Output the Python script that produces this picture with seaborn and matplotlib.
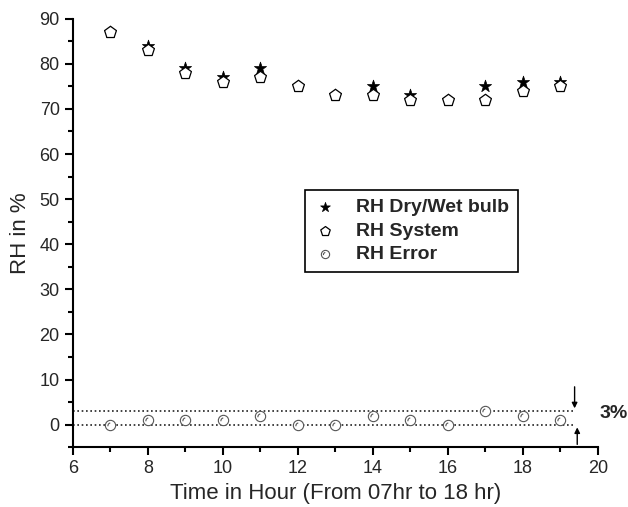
import numpy as np
import matplotlib
matplotlib.use('Agg')
import matplotlib.pyplot as plt
from matplotlib.path import Path
from matplotlib.ticker import MultipleLocator
import seaborn as sns

# data
hours = [7, 8, 9, 10, 11, 12, 13, 14, 15, 16, 17, 18, 19]
rh_drywet = [87, 84, 79, 77, 79, 75, 73, 75, 73, 72, 75, 76, 76]
rh_system = [87, 83, 78, 76, 77, 75, 73, 73, 72, 72, 72, 74, 75]
rh_error = [0, 1, 1, 1, 2, 0, 0, 2, 1, 0, 3, 2, 1]

sns.set_style('ticks')
plt.rcParams['font.family'] = ['Liberation Sans', 'DejaVu Sans']

# circle with a small inner arc, like the origin marker
circ = Path.unit_circle()
arc = Path.arc(100, 190)
arc = Path(arc.vertices * 0.55 + [0.05, -0.05], arc.codes)
err_marker = Path.make_compound_path(circ, arc)

fig = plt.figure(figsize=(6.28, 5.07), dpi=100)
ax = fig.add_axes([0.116, 0.118, 0.836, 0.845])

sns.scatterplot(x=hours, y=rh_drywet, marker='*', s=85, color='black',
                edgecolor='black', linewidth=0.5, label='RH Dry/Wet bulb', ax=ax, zorder=3)
sns.scatterplot(x=hours, y=rh_system, marker='p', s=80, color='white',
                edgecolor='black', linewidth=0.9, label='RH System', ax=ax, zorder=4)
sns.scatterplot(x=hours, y=rh_error, marker=err_marker, s=55, color='white',
                edgecolor='#555555', linewidth=0.8, label='RH Error', ax=ax, zorder=4)

# 3% band
ax.plot([6, 19.35], [3, 3], ls=(0, (1, 1.6)), color='#222222', lw=1.2, zorder=2)
ax.plot([6, 19.35], [0, 0], ls=(0, (1, 1.6)), color='#222222', lw=1.2, zorder=2)
ax.annotate('', xy=(19.38, 3), xytext=(19.38, 9),
            arrowprops=dict(arrowstyle='-|>', color='black', lw=1, mutation_scale=8),
            annotation_clip=False)
ax.annotate('', xy=(19.45, 0), xytext=(19.45, -5),
            arrowprops=dict(arrowstyle='-|>', color='black', lw=1, mutation_scale=8),
            annotation_clip=False)
ax.text(20.05, 2.4, '3%', fontsize=14, fontweight='bold', va='center', ha='left', clip_on=False)

ax.set_xlim(6, 20)
ax.set_ylim(-5, 90)
ax.xaxis.set_major_locator(MultipleLocator(2))
ax.xaxis.set_minor_locator(MultipleLocator(1))
ax.yaxis.set_major_locator(MultipleLocator(10))
ax.yaxis.set_minor_locator(MultipleLocator(5))
ax.tick_params(which='major', length=6, width=1.5, labelsize=13, color='black')
ax.tick_params(which='minor', length=3.5, width=1.5, color='black')
for side in ['left', 'bottom']:
    ax.spines[side].set_linewidth(1.5)
    ax.spines[side].set_color('black')
sns.despine(ax=ax)

ax.set_xlabel('Time in Hour (From 07hr to 18 hr)', fontsize=16)
ax.set_ylabel('RH in %', fontsize=16, labelpad=6)

leg = ax.legend(loc='upper left', bbox_to_anchor=(0.442, 0.6), borderaxespad=0,
                frameon=True, fancybox=False, edgecolor='black', framealpha=1,
                prop={'weight': 'bold', 'size': 14}, handletextpad=1.0,
                handlelength=1.2, labelspacing=0.3, borderpad=0.45, markerscale=0.8)
leg.get_frame().set_linewidth(1.2)

fig.savefig('out.png', dpi=100)
